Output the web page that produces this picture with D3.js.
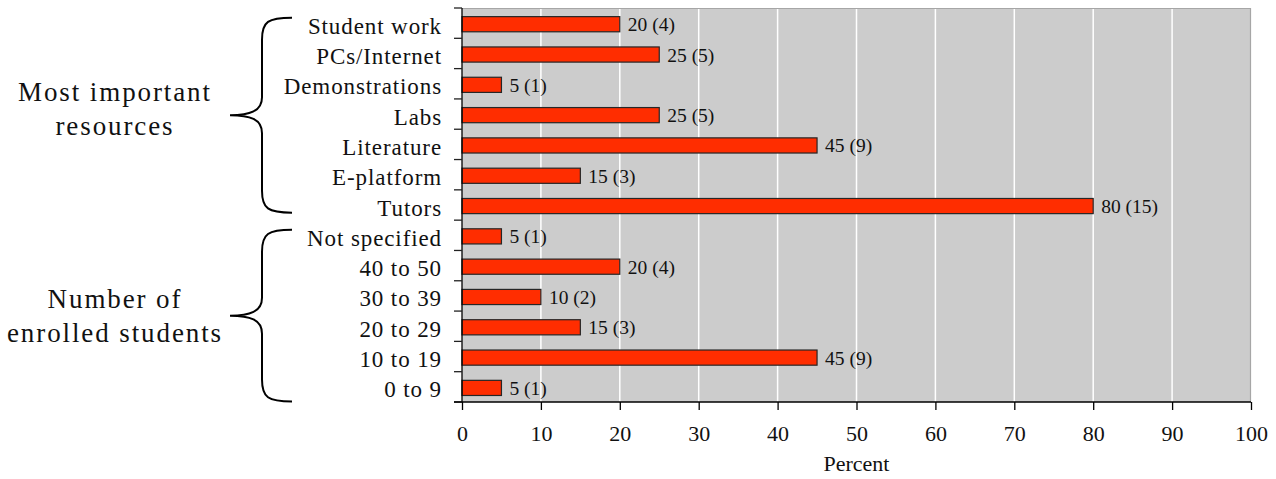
<!DOCTYPE html>
<html>
<head>
<meta charset="utf-8">
<script src="https://cdn.jsdelivr.net/npm/d3@7"></script>
<style>
  html, body { margin: 0; padding: 0; background: #fff; }
  svg { display: block; }
  text { font-family: "Liberation Serif", "Times New Roman", serif; fill: #111; }
</style>
</head>
<body>
<svg id="chart" width="1276" height="479"></svg>
<script>
// Survey results: share of respondents (percent) and counts in brackets
const categories = [
  "Student work", "PCs/Internet", "Demonstrations", "Labs", "Literature",
  "E-platform", "Tutors",
  "Not specified", "40 to 50", "30 to 39", "20 to 29", "10 to 19", "0 to 9"
];
const percents = [20, 25, 5, 25, 45, 15, 80, 5, 20, 10, 15, 45, 5];
const counts   = [4, 5, 1, 5, 9, 3, 15, 1, 4, 2, 3, 9, 1];
const xTicks = [0, 10, 20, 30, 40, 50, 60, 70, 80, 90, 100];
const groupNames = [["Most important", "resources"], ["Number of", "enrolled students"]];
const groupFirst = ["Student work", "Not specified"];
const groupLast  = ["Tutors", "0 to 9"];

const svg = d3.select("#chart");
const plot = { left: 462, right: 1251, top: 8, bottom: 402 };

const x = d3.scaleLinear().domain([0, 100]).range([plot.left, plot.right]);
const y = d3.scaleBand().domain(categories).range([plot.top, plot.bottom])
  .paddingInner(0.5).paddingOuter(0.25).align(0.57);

// plot background
svg.append("rect")
  .attr("x", plot.left).attr("y", plot.top)
  .attr("width", plot.right - plot.left).attr("height", plot.bottom - plot.top)
  .attr("fill", "#cccccc");

// vertical gridlines
svg.append("g").selectAll("line")
  .data(xTicks.filter(t => t > 0 && t < 100))
  .join("line")
  .attr("x1", d => x(d)).attr("x2", d => x(d))
  .attr("y1", plot.top).attr("y2", plot.bottom)
  .attr("stroke", "#ffffff").attr("stroke-width", 1.5);

// frame: top and right edges in grey
svg.append("path")
  .attr("d", `M${plot.left},${plot.top + 0.5}H${plot.right - 0.5}V${plot.bottom}`)
  .attr("fill", "none").attr("stroke", "#a6a6a6").attr("stroke-width", 1.2);

// bars
svg.append("g").selectAll("rect")
  .data(categories)
  .join("rect")
  .attr("x", x(0))
  .attr("y", d => y(d))
  .attr("width", (d, i) => x(percents[i]) - x(0))
  .attr("height", y.bandwidth())
  .attr("fill", "#ff2d00")
  .attr("stroke", "#262626").attr("stroke-width", 1.2);

// value labels
svg.append("g").selectAll("text")
  .data(categories)
  .join("text")
  .attr("x", (d, i) => x(percents[i]) + 8)
  .attr("y", d => y(d) + y.bandwidth() / 2 + 7)
  .attr("font-size", 19.5)
  .text((d, i) => `${percents[i]} (${counts[i]})`);

// left axis: line, ticks at band boundaries, category labels
const step = y.step();
const bandTop = plot.top;
svg.append("line")
  .attr("x1", plot.left).attr("x2", plot.left)
  .attr("y1", plot.top).attr("y2", plot.bottom)
  .attr("stroke", "#000").attr("stroke-width", 1.3);
svg.append("g").selectAll("line")
  .data(d3.range(categories.length + 1))
  .join("line")
  .attr("x1", plot.left - 8).attr("x2", plot.left)
  .attr("y1", i => bandTop + i * step).attr("y2", i => bandTop + i * step)
  .attr("stroke", "#222").attr("stroke-width", 1.3);
svg.append("g").selectAll("text")
  .data(categories)
  .join("text")
  .attr("x", plot.left - 20)
  .attr("y", d => y(d) + y.bandwidth() / 2 + 9.5)
  .attr("text-anchor", "end")
  .attr("font-size", 23)
  .attr("letter-spacing", 0.9)
  .text(d => d);

// bottom axis
const xAxis = d3.axisBottom(x).tickValues(xTicks).tickSize(8).tickPadding(15)
  .tickFormat(d3.format("d"));
const gx = svg.append("g").attr("transform", `translate(0,${plot.bottom})`).call(xAxis);
gx.select(".domain").remove();
gx.selectAll(".tick line").attr("stroke", "#000").attr("stroke-width", 1.3);
gx.selectAll(".tick text")
  .attr("font-family", "Liberation Serif, serif")
  .attr("font-size", 22).attr("fill", "#111");
svg.append("line")
  .attr("x1", plot.left - 8).attr("x2", plot.right)
  .attr("y1", plot.bottom).attr("y2", plot.bottom)
  .attr("stroke", "#000").attr("stroke-width", 1.3);

svg.append("text")
  .attr("x", (plot.left + plot.right) / 2)
  .attr("y", 471)
  .attr("text-anchor", "middle")
  .attr("font-size", 22)
  .text("Percent");

// curly braces grouping the categories
function bracePath(tipX, spineX, pointX, top, mid, bot) {
  return `M${tipX},${top}` +
    `C${spineX + 6},${top} ${spineX},${top + 4} ${spineX},${top + 22}` +
    `L${spineX},${mid - 18}` +
    `C${spineX},${mid - 4} ${spineX - 12},${mid} ${pointX},${mid}` +
    `C${spineX - 12},${mid} ${spineX},${mid + 4} ${spineX},${mid + 18}` +
    `L${spineX},${bot - 22}` +
    `C${spineX},${bot - 4} ${spineX + 6},${bot} ${tipX},${bot}`;
}

const braceSpans = [
  { top: y(groupFirst[0]) + 1, bot: y(groupLast[0]) + y.bandwidth() - 1 },
  { top: y(groupFirst[1]) + 1, bot: y(groupLast[1]) + y.bandwidth() + 6 }
];
const gBraces = svg.append("g");
braceSpans.forEach((s, gi) => {
  const mid = (s.top + s.bot) / 2;
  gBraces.append("path")
    .attr("d", bracePath(292, 262, 230, s.top, mid, s.bot))
    .attr("fill", "none").attr("stroke", "#000").attr("stroke-width", 2);
  const t = gBraces.append("text")
    .attr("text-anchor", "middle")
    .attr("font-size", 27)
    .attr("letter-spacing", 1.9);
  groupNames[gi].forEach((line, li) => {
    t.append("tspan")
      .attr("x", 115)
      .attr("y", mid - 14 + li * 34 + gi * 6)
      .text(line);
  });
});
</script>
</body>
</html>
